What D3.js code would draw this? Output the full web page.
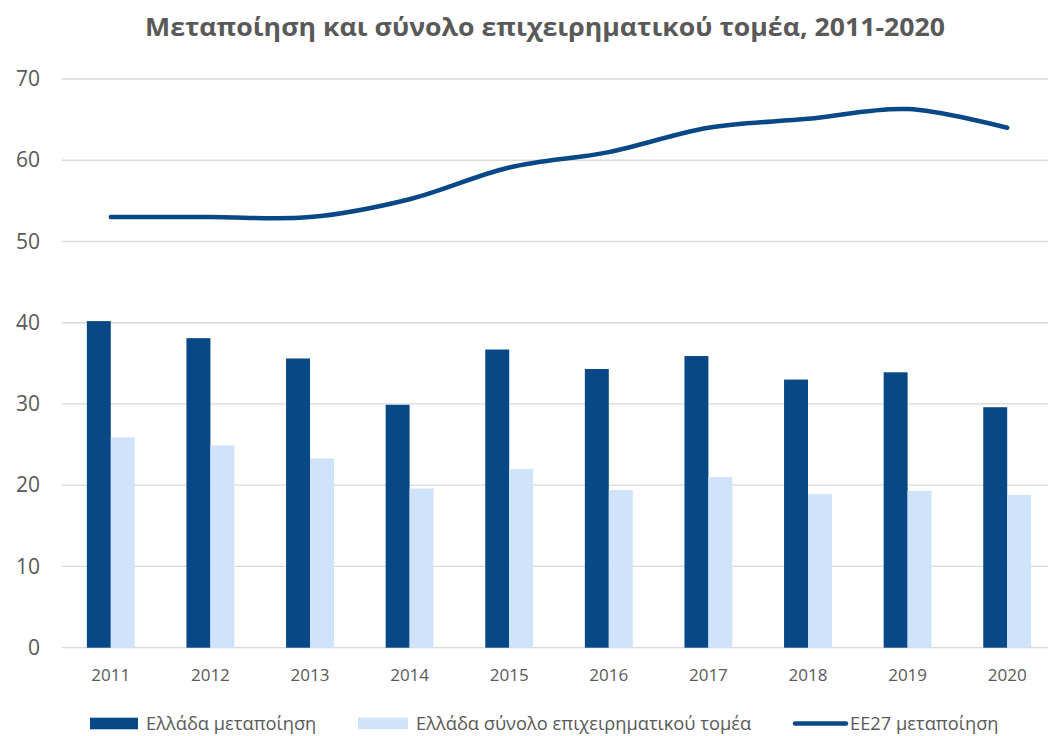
<!DOCTYPE html>
<html>
<head>
<meta charset="utf-8">
<script src="https://cdn.jsdelivr.net/npm/d3@7"></script>
<style>
  body { margin: 0; background: #fff; }
  text { font-family: "Open Sans", sans-serif; fill: #595959; }
</style>
</head>
<body>
<svg id="chart"></svg>
<script>
// δεδομένα διαγράμματος
const years = ["2011", "2012", "2013", "2014", "2015", "2016", "2017", "2018", "2019", "2020"];
const grManuf = [40.2, 38.1, 35.6, 29.9, 36.7, 34.3, 35.9, 33.0, 33.9, 29.6];
const grTotal = [25.9, 24.9, 23.3, 19.6, 22.0, 19.4, 21.0, 18.9, 19.3, 18.8];
const eu27Manuf = [53.0, 53.0, 53.0, 55.2, 59.1, 61.0, 64.0, 65.1, 66.3, 64.0];
const yTicks = [0, 10, 20, 30, 40, 50, 60, 70];
const seriesNames = ["Ελλάδα μεταποίηση", "Ελλάδα σύνολο επιχειρηματικού τομέα", "ΕΕ27 μεταποίηση"];

const width = 1048, height = 736;
const darkBlue = "#084887", lightBlue = "#cfe3fa";

const svg = d3.select("#chart")
  .attr("width", width)
  .attr("height", height);

const x = d3.scaleBand().domain(years).range([61, 1057]).paddingInner(0).paddingOuter(0);
const xSub = d3.scaleBand().domain(["gr", "tot"]).range([0, x.bandwidth()]).paddingInner(0).paddingOuter(1.08);
const y = d3.scaleLinear().domain([0, 70]).range([647.7, 79]);

// τίτλος
svg.append("text")
  .attr("x", 545).attr("y", 36)
  .attr("text-anchor", "middle")
  .attr("textLength", 800)
  .attr("lengthAdjust", "spacingAndGlyphs")
  .style("font-size", "25px").style("font-weight", "bold")
  .text("Μεταποίηση και σύνολο επιχειρηματικού τομέα, 2011-2020");

// γραμμές πλέγματος
svg.append("g").selectAll("line")
  .data(yTicks)
  .join("line")
    .attr("x1", 62).attr("x2", 1048)
    .attr("y1", d => y(d)).attr("y2", d => y(d))
    .attr("stroke", "#d9d9d9").attr("stroke-width", 1.3);

// άξονας y
const yAxis = svg.append("g")
  .attr("transform", "translate(40,0)")
  .call(d3.axisLeft(y).tickValues(yTicks).tickSize(0).tickPadding(0));
yAxis.select(".domain").remove();
yAxis.selectAll("text").style("font-size", "21px").attr("font-family", null).attr("fill", null);

// άξονας x
const xAxis = svg.append("g")
  .attr("transform", "translate(0,669)")
  .call(d3.axisBottom(x).tickSize(0).tickPadding(0));
xAxis.select(".domain").remove();
xAxis.selectAll("text").style("font-size", "17px").attr("font-family", null).attr("fill", null);

// ράβδοι
const groups = svg.append("g").selectAll("g")
  .data(years)
  .join("g")
    .attr("transform", d => `translate(${x(d)},0)`);

groups.append("rect")
  .attr("x", xSub("gr"))
  .attr("width", xSub.bandwidth())
  .attr("y", (d, i) => y(grManuf[i]))
  .attr("height", (d, i) => y(0) - y(grManuf[i]))
  .attr("fill", darkBlue);

groups.append("rect")
  .attr("x", xSub("tot"))
  .attr("width", xSub.bandwidth())
  .attr("y", (d, i) => y(grTotal[i]))
  .attr("height", (d, i) => y(0) - y(grTotal[i]))
  .attr("fill", lightBlue);

// γραμμή ΕΕ27
const line = d3.line()
  .x((d, i) => x(years[i]) + x.bandwidth() / 2)
  .y(d => y(d))
  .curve(d3.curveCatmullRom.alpha(0.5));

svg.append("path")
  .datum(eu27Manuf)
  .attr("d", line)
  .attr("fill", "none")
  .attr("stroke", darkBlue)
  .attr("stroke-width", 4.5)
  .attr("stroke-linecap", "round");

// υπόμνημα
const legend = svg.append("g").attr("transform", "translate(0,723.5)");
const legX = [90, 358, 793];
const legTextX = [146, 416, 850];

legend.append("rect").attr("x", legX[0]).attr("y", -5.8).attr("width", 48).attr("height", 11.6).attr("fill", darkBlue);
legend.append("rect").attr("x", legX[1]).attr("y", -5.8).attr("width", 50).attr("height", 11.6).attr("fill", lightBlue);
legend.append("line").attr("x1", legX[2] + 2).attr("x2", legX[2] + 53).attr("y1", 0).attr("y2", 0)
  .attr("stroke", darkBlue).attr("stroke-width", 4.5).attr("stroke-linecap", "round");

legend.selectAll("text.leg")
  .data(seriesNames)
  .join("text")
    .attr("class", "leg")
    .attr("x", (d, i) => legTextX[i])
    .attr("y", 0)
    .attr("dy", "0.35em")
    .style("font-size", "18.3px")
    .text(d => d);
</script>
</body>
</html>
